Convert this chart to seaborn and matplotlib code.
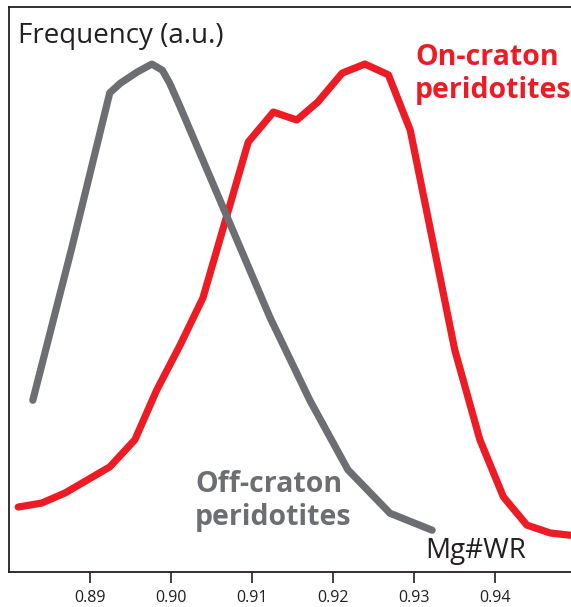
import pandas as pd
import matplotlib.pyplot as plt
import seaborn as sns

sns.set_style('ticks')
plt.rcParams['font.family'] = ['Open Sans', 'DejaVu Sans']

# -----------------------------
# data (frequency in arbitrary units)
# -----------------------------
off_mg = [0.8829, 0.8877, 0.8924, 0.8937, 0.8958, 0.8976, 0.8989, 0.8998,
          0.9011, 0.9122, 0.9171, 0.9218, 0.9270, 0.9322]
off_freq = [30.4, 57.3, 84.8, 86.5, 88.5, 89.9, 88.8, 86.5,
            82.3, 45.0, 30.4, 18.1, 10.4, 7.4]

on_mg = [0.8811, 0.8840, 0.8869, 0.8924, 0.8955, 0.8982, 0.9011, 0.9039,
         0.9095, 0.9126, 0.9155, 0.9181, 0.9211, 0.9239, 0.9268, 0.9295,
         0.9350, 0.9381, 0.9410, 0.9439, 0.9468, 0.9493]
on_freq = [11.5, 12.2, 14.0, 18.6, 23.4, 32.2, 40.2, 48.5,
           76.1, 81.4, 80.0, 83.2, 88.3, 89.9, 88.0, 78.2,
           39.3, 23.4, 13.3, 8.3, 6.9, 6.5]

x_ticks = [0.89, 0.90, 0.91, 0.92, 0.93, 0.94]

GREY = '#6d6e71'
RED = '#ed1c24'

off_df = pd.DataFrame({'mg': off_mg, 'freq': off_freq})
on_df = pd.DataFrame({'mg': on_mg, 'freq': on_freq})

fig = plt.figure(figsize=(5.71, 6.07), dpi=100)
ax = fig.add_axes([9 / 571, 35 / 607, 562 / 571, 565 / 607])

line_kw = dict(linewidth=5.2, solid_capstyle='round', solid_joinstyle='round')
sns.lineplot(data=on_df, x='mg', y='freq', color=RED, ax=ax, sort=False, **line_kw)
sns.lineplot(data=off_df, x='mg', y='freq', color=GREY, ax=ax, sort=False, **line_kw)

ax.set_xlim(0.87996, 0.94935)
ax.set_ylim(0, 100)
ax.set_xticks(x_ticks)
ax.set_xticklabels([f'{t:.2f}' for t in x_ticks], fontsize=11.5, color='#231f20')
ax.set_yticks([])
ax.set_xlabel('')
ax.set_ylabel('')
ax.tick_params(axis='x', direction='out', length=8, width=1.2, pad=5, color='#231f20')

for side in ['left', 'top', 'bottom']:
    ax.spines[side].set_linewidth(1.3)
    ax.spines[side].set_color('#231f20')
ax.spines['right'].set_visible(False)

ax.text(0.016, 0.936, 'Frequency (a.u.)', transform=ax.transAxes,
        fontsize=20, color='#231f20', va='baseline', ha='left')
ax.text(0.740, 0.0248, 'Mg#WR', transform=ax.transAxes,
        fontsize=20, color='#231f20', va='baseline', ha='left')

ax.text(0.7224, 0.897, 'On-craton', transform=ax.transAxes, fontsize=20.5,
        fontweight='bold', color=RED, va='baseline', ha='left')
ax.text(0.7224, 0.839, 'peridotites', transform=ax.transAxes, fontsize=20.5,
        fontweight='bold', color=RED, va='baseline', ha='left')
ax.text(0.331, 0.1416, 'Off-craton', transform=ax.transAxes, fontsize=20.5,
        fontweight='bold', color=GREY, va='baseline', ha='left')
ax.text(0.331, 0.0832, 'peridotites', transform=ax.transAxes, fontsize=20.5,
        fontweight='bold', color=GREY, va='baseline', ha='left')

fig.savefig('out.png', dpi=100)
